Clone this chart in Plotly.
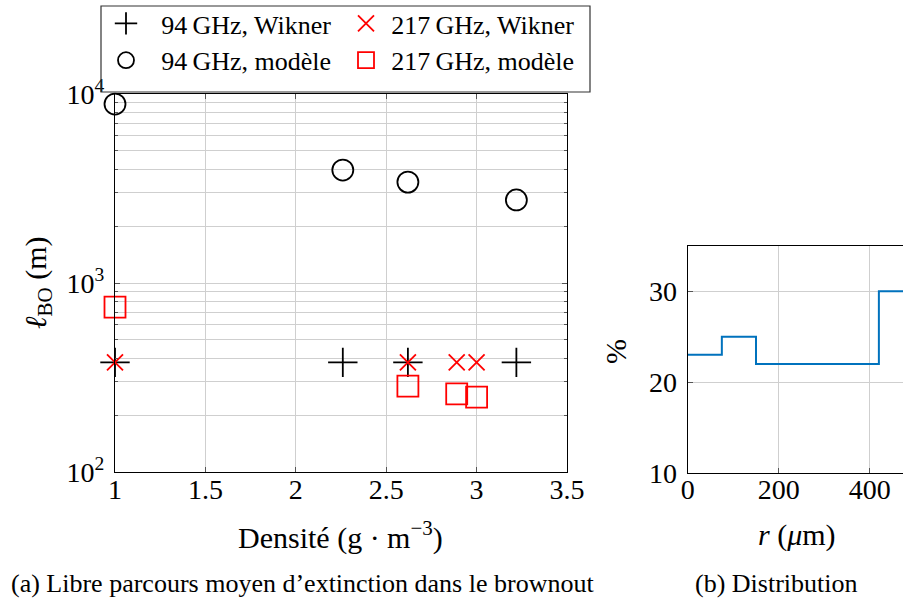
import plotly.graph_objects as go

# ---- data (a) ----
x_94_wik = [1.0, 2.26, 2.62, 3.22]
y_94_wik = [380, 380, 380, 380]
x_217_wik = [1.0, 2.62, 2.89, 3.0]
y_217_wik = [380, 380, 380, 380]
x_94_mod = [1.0, 2.26, 2.62, 3.22]
y_94_mod = [8850, 3960, 3420, 2750]
x_217_mod = [1.0, 2.62, 2.89, 3.0]
y_217_mod = [746, 285, 259, 249]

# ---- data (b) ----
r_um = [0, 75, 150, 420, 473]
pct = [23, 25, 22, 30, 30]

W, H = 903, 601
FONT = "Liberation Serif"
GRID = "#cfcfcf"

def px(x):
    return x / W

def py(y):
    return (H - y) / H

fig = go.Figure()

fig.add_trace(go.Scatter(x=x_94_wik, y=y_94_wik, mode="markers", name="\u2002\u200a94\u2009GHz, Wikner",
                         legend="legend", cliponaxis=False,
                         marker=dict(symbol="cross-thin", size=21, color="black",
                                     line=dict(color="black", width=1.8))))
fig.add_trace(go.Scatter(x=x_94_mod, y=y_94_mod, mode="markers", name="\u2002\u200a94\u2009GHz, modèle",
                         legend="legend", cliponaxis=False,
                         marker=dict(symbol="circle-open", size=21, color="black",
                                     line=dict(color="black", width=1.8))))
fig.add_trace(go.Scatter(x=x_217_wik, y=y_217_wik, mode="markers", name="\u2009217\u2009GHz, Wikner",
                         legend="legend2", cliponaxis=False,
                         marker=dict(symbol="x-thin", size=16, color="red",
                                     line=dict(color="red", width=1.8))))
fig.add_trace(go.Scatter(x=x_217_mod, y=y_217_mod, mode="markers", name="\u2009217\u2009GHz, modèle",
                         legend="legend2", cliponaxis=False,
                         marker=dict(symbol="square-open", size=21, color="red",
                                     line=dict(color="red", width=1.8))))

fig.add_trace(go.Scatter(x=r_um, y=pct, mode="lines", line=dict(shape="hv", color="#0072BD", width=2),
                         xaxis="x2", yaxis="y2", showlegend=False, cliponaxis=True))

tickfont = dict(family=FONT, size=28, color="black")

fig.update_layout(
    template="none",
    width=W, height=H,
    margin=dict(l=0, r=0, t=0, b=0, pad=0),
    paper_bgcolor="white", plot_bgcolor="white",
    font=dict(family=FONT, color="black"),
    xaxis=dict(domain=[px(115), px(567)], range=[1, 3.5], tickvals=[1, 1.5, 2, 2.5, 3, 3.5],
               ticktext=["1", "1.5", "2", "2.5", "3", "3.5"], automargin=False,
               showgrid=True, gridcolor=GRID, gridwidth=1, zeroline=False,
               showline=True, linecolor="black", linewidth=1.2, mirror="ticks",
               ticks="inside", ticklen=5, tickcolor="#555", tickfont=tickfont,
               ticklabelstandoff=-8),
    yaxis=dict(domain=[py(472), py(94)], type="log", range=[2, 4], automargin=False,
               tickvals=[100, 1000, 10000],
               ticktext=["10<sup>2</sup>", "10<sup>3</sup>", "10<sup>4</sup>"],
               showgrid=True, gridcolor=GRID, gridwidth=1, zeroline=False,
               showline=True, linecolor="black", linewidth=1.2, mirror="ticks",
               ticks="inside", ticklen=5, tickcolor="#555", tickfont=tickfont,
               ticklabelstandoff=4,
               minor=dict(showgrid=True, gridcolor=GRID, gridwidth=1, ticks="inside",
                          ticklen=3, tickcolor="#555", dtick="D1")),
    xaxis2=dict(domain=[px(687.7), 1.0], range=[0, 473], tickvals=[0, 200, 400], automargin=False,
                showgrid=True, gridcolor=GRID, zeroline=False,
                showline=True, linecolor="black", linewidth=1.2, mirror=True,
                ticks="inside", ticklen=5, tickcolor="#555", tickfont=tickfont,
                ticklabelstandoff=-8, anchor="y2"),
    yaxis2=dict(domain=[py(472.7), py(246)], range=[10, 35], tickvals=[10, 20, 30], automargin=False,
                showgrid=True, gridcolor=GRID, zeroline=False,
                showline=True, linecolor="black", linewidth=1.2, mirror=False,
                ticks="inside", ticklen=5, tickcolor="#555", tickfont=tickfont,
                ticklabelstandoff=4, anchor="x2"),
    legend=dict(x=px(106), y=1.0, xanchor="left", yanchor="top",
                bgcolor="rgba(0,0,0,0)", borderwidth=0,
                font=dict(family=FONT, size=26, color="black"), itemwidth=30,
                tracegroupgap=0),
    legend2=dict(x=px(346), y=1.0, xanchor="left", yanchor="top",
                 bgcolor="rgba(0,0,0,0)", borderwidth=0,
                 font=dict(family=FONT, size=26, color="black"), itemwidth=30,
                 tracegroupgap=0),
    showlegend=True,
)

# legend frame
fig.add_shape(type="rect", xref="paper", yref="paper",
              x0=px(101), x1=px(590), y0=py(92), y1=py(6),
              line=dict(color="#333", width=1.2), fillcolor="rgba(0,0,0,0)")

ann = dict(xref="paper", yref="paper", showarrow=False, xanchor="center", yanchor="middle",
           font=dict(family=FONT, size=30, color="black"))
fig.add_annotation(x=px(340), y=py(535), text="Densité (g · m<sup>−3</sup>)", **ann)
fig.add_annotation(x=px(38), y=py(283), text="<i>ℓ</i><sub>BO</sub> (m)", textangle=-90, **ann)
fig.add_annotation(x=px(797), y=py(535), text="<i>r</i> (<i>μ</i>m)", **ann)
fig.add_annotation(x=px(616), y=py(352), text="%", textangle=-90, **ann)

cap = dict(xref="paper", yref="paper", showarrow=False, xanchor="center", yanchor="middle",
           font=dict(family=FONT, size=26, color="black"))
fig.add_annotation(x=px(302), y=py(583), text="(a) Libre parcours moyen d’extinction dans le brownout", **cap)
fig.add_annotation(x=px(776), y=py(583), text="(b) Distribution", **cap)

fig.write_html("out.html", config={"displayModeBar": False},
               post_script="document.body.style.margin='0';")
